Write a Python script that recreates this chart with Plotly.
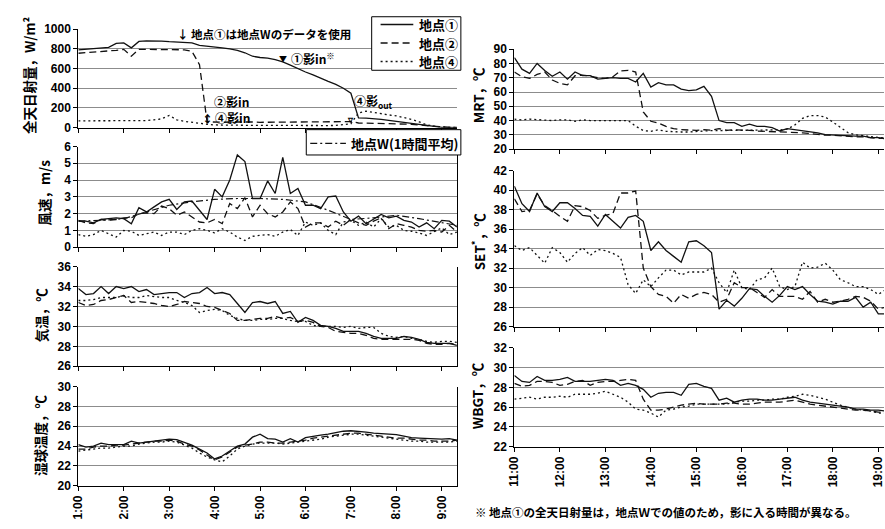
import plotly.graph_objects as go

W, H = 885, 529


def px(x):
    return x / W


def py(y):
    return 1 - y / H


# ---------------- data ----------------
TIMES = ["11:00", "11:10", "11:20", "11:30", "11:40", "11:50",
         "12:00", "12:10", "12:20", "12:30", "12:40", "12:50",
         "13:00", "13:10", "13:20", "13:30", "13:40", "13:50",
         "14:00", "14:10", "14:20", "14:30", "14:40", "14:50",
         "15:00", "15:10", "15:20", "15:30", "15:40", "15:50",
         "16:00", "16:10", "16:20", "16:30", "16:40", "16:50",
         "17:00", "17:10", "17:20", "17:30", "17:40", "17:50",
         "18:00", "18:10", "18:20", "18:30", "18:40", "18:50",
         "19:00", "19:10", "19:20"]

W_TIMES = ["11:00", "11:30", "12:00", "12:30", "13:00", "13:30", "14:00", "14:30", "15:00",
           "15:30", "16:00", "16:30", "17:00", "17:30", "18:00", "18:30", "19:00", "19:20"]

LEFT_TICKS = ["1:00", "2:00", "3:00", "4:00", "5:00", "6:00", "7:00", "8:00", "9:00"]
RIGHT_TICKS = ["11:00", "12:00", "13:00", "14:00", "15:00", "16:00", "17:00", "18:00", "19:00"]
TICK_HOURS = [11, 12, 13, 14, 15, 16, 17, 18, 19]

NAMES = ["地点①", "地点②", "地点④"]
W_NAME = "地点W(1時間平均)"

SOLAR_1 = [790, 795, 800, 805, 815, 855, 860, 810, 875, 880, 880, 878, 872, 868, 865, 860, 835,
           828, 822, 810, 800, 785, 760, 725, 712, 705, 690, 668, 635, 597, 565, 535, 500, 470,
           440, 400, 350, 100, 98, 95, 85, 75, 65, 55, 45, 30, 18, 10, 4, 2, 1]
SOLAR_2 = [755, 760, 765, 770, 775, 785, 795, 725, 795, 795, 795, 795, 795, 790, 790, 775, 640,
           60, 55, 55, 58, 60, 60, 58, 55, 55, 55, 55, 57, 57, 55, 55, 55, 57, 58, 60, 62, 48,
           46, 45, 45, 44, 43, 40, 35, 28, 20, 12, 6, 3, 2]
SOLAR_4 = [70, 70, 68, 70, 70, 68, 66, 68, 70, 72, 80, 90, 125, 80, 65, 55, 40, 35, 28, 26, 25,
           25, 24, 24, 24, 23, 23, 23, 23, 22, 22, 22, 22, 22, 23, 28, 40, 150, 168, 155, 140,
           130, 120, 105, 85, 60, 30, 15, 7, 3, 2]

WIND_1 = [1.55, 1.55, 1.45, 1.65, 1.7, 1.75, 1.7, 1.4, 2.35, 2.1, 2.4, 2.7, 2.85, 2.25, 2.7,
          2.75, 2.2, 1.65, 3.45, 3.0, 4.0, 5.5, 5.1, 2.9, 2.9, 3.95, 3.2, 5.35, 3.2, 3.5, 2.5,
          2.5, 2.3, 3.0, 3.05, 2.1, 1.55, 1.85, 1.4, 1.7, 1.95, 1.75, 1.85, 1.6, 1.5, 1.2, 1.45,
          1.1, 1.6, 1.55, 1.2]
WIND_2 = [1.6, 1.45, 1.4, 1.65, 1.6, 1.65, 1.75, 1.75, 2.0, 2.05, 2.0, 2.45, 2.3, 1.9, 2.1,
          1.8, 1.5, 1.45, 1.65, 1.4, 2.6, 2.3, 2.95, 1.8, 2.5, 2.0, 1.8, 2.1, 2.7, 2.3, 1.2,
          1.45, 1.45, 1.2, 1.55, 1.3, 1.65, 1.45, 1.3, 1.55, 1.75, 1.1, 1.4, 1.3, 1.2, 1.0,
          0.95, 1.0, 0.9, 1.3, 0.9]
WIND_4 = [0.75, 0.65, 0.75, 1.0, 0.8, 0.6, 1.0, 0.95, 0.7, 0.8, 0.9, 0.7, 0.9, 0.9, 0.75, 1.0,
          1.1, 1.0, 0.85, 1.1, 0.9, 0.6, 0.4, 0.65, 0.7, 0.75, 0.65, 0.9, 1.05, 0.7, 1.5, 1.3,
          1.45, 1.0, 0.75, 1.5, 1.6, 1.3, 1.5, 1.2, 1.7, 1.2, 1.3, 1.0, 0.95, 0.85, 0.7, 0.95,
          1.15, 0.75, 0.9]
WIND_W = [1.55, 1.6, 1.7, 2.1, 2.5, 2.7, 2.85, 2.9, 2.9, 2.85, 2.7, 2.2, 1.65, 1.75, 1.9, 1.7,
          1.45, 1.3]

AIR_1 = [33.8, 33.2, 33.3, 34.0, 33.3, 34.0, 33.8, 34.0, 33.5, 33.7, 33.2, 33.3, 33.4, 33.4,
         32.9, 33.3, 33.4, 33.9, 33.3, 33.4, 33.2, 32.3, 31.4, 32.4, 32.5, 32.3, 32.5, 31.3,
         31.5, 30.4, 30.9, 30.6, 30.1, 30.0, 29.8, 29.5, 29.5, 29.5, 29.3, 29.0, 28.8, 28.8,
         28.8, 29.0, 28.9, 28.7, 28.4, 28.3, 28.3, 28.3, 28.1]
AIR_2 = [32.4, 32.1, 32.2, 32.6, 32.7, 32.9, 33.1, 32.4, 32.5, 32.4, 32.3, 32.1, 32.0, 32.2,
         32.5, 32.4, 32.3, 32.0, 31.9, 31.6, 31.3, 30.6, 30.6, 30.7, 30.8, 30.8, 31.0, 30.8,
         30.9, 30.5, 30.6, 30.4, 30.0, 29.9, 29.5, 29.4, 29.3, 29.3, 29.1, 28.8, 28.7, 28.7,
         28.7, 28.7, 28.7, 28.6, 28.3, 28.2, 28.2, 28.3, 28.2]
AIR_4 = [32.6, 32.6, 32.7, 32.9, 32.9, 32.9, 33.1, 32.9, 32.9, 33.1, 33.0, 32.9, 32.9, 32.6,
         32.4, 32.1, 31.4, 31.6, 31.7, 31.6, 31.1, 30.8, 30.6, 30.6, 30.7, 30.7, 30.8, 30.8,
         30.6, 30.5, 30.5, 30.1, 30.0, 30.0, 30.0, 29.9, 30.0, 29.8, 29.9, 29.9, 29.3, 29.0,
         28.9, 29.0, 28.8, 28.7, 28.5, 28.4, 28.5, 28.5, 28.4]

WET_1 = [24.15, 23.9, 24.0, 24.3, 24.15, 24.15, 24.15, 24.5, 24.3, 24.4, 24.5, 24.65, 24.7,
         24.65, 24.4, 24.1, 23.7, 23.3, 22.7, 23.0, 23.5, 24.0, 24.2, 24.9, 25.2, 24.75, 24.7,
         24.4, 24.75, 24.4, 24.85, 25.0, 25.1, 25.2, 25.35, 25.5, 25.55, 25.5, 25.4, 25.3,
         25.25, 25.25, 25.15, 25.0, 24.85, 24.8, 24.75, 24.75, 24.7, 24.75, 24.6]
WET_2 = [23.7, 23.7, 23.9, 24.0, 24.0, 24.1, 24.1, 24.2, 24.3, 24.4, 24.5, 24.5, 24.6, 24.5,
         24.2, 24.0, 23.6, 23.1, 22.6, 22.9, 23.4, 23.9, 24.1, 24.2, 24.4, 24.4, 24.3, 24.3,
         24.4, 24.5, 24.6, 24.8, 24.9, 25.0, 25.1, 25.2, 25.3, 25.3, 25.2, 25.1, 25.0, 24.9,
         24.8, 24.8, 24.7, 24.6, 24.6, 24.5, 24.5, 24.5, 24.6]
WET_4 = [23.5, 23.6, 23.7, 23.8, 23.8, 23.9, 24.0, 24.0, 24.2, 24.3, 24.4, 24.4, 24.5, 24.4,
         24.1, 23.8, 23.3, 22.9, 22.6, 22.4, 23.0, 23.7, 24.0, 24.2, 24.3, 24.3, 24.3, 24.2,
         24.3, 24.4, 24.5, 24.6, 24.7, 24.9, 25.0, 25.1, 25.2, 25.2, 25.1, 25.0, 24.9, 24.8,
         24.7, 24.6, 24.5, 24.5, 24.4, 24.4, 24.4, 24.4, 24.5]

MRT_1 = [84, 76, 73, 80, 75, 71, 74, 69, 74, 71.5, 71.5, 69, 69.5, 70, 69.5, 69.5, 67, 73,
         63.5, 66.5, 65, 65, 62, 61, 61.5, 64, 57, 40, 38.5, 38.5, 36, 37.5, 36, 36, 35, 32.7,
         34.3, 33.6, 32.7, 32, 31.4, 30.2, 29.8, 29.8, 29.3, 29.1, 29.1, 28, 28, 27, 26.5]
MRT_2 = [74, 70.7, 69.5, 72.3, 74, 68.4, 66, 65, 71.4, 71.8, 71.1, 70, 69.5, 70.7, 74.8, 75.2,
         74, 46, 39.5, 38.2, 35.9, 34.3, 33.6, 33.2, 33.2, 33.6, 33.2, 34.3, 33.2, 33.6, 33.6,
         33.2, 32.7, 32.5, 32.5, 32.5, 32, 32, 31.4, 30.9, 30.2, 29.8, 29.8, 29.3, 29.1, 28.6,
         28.6, 28, 27.5, 27.5, 27]
MRT_4 = [41, 40.5, 41, 40.5, 40.5, 40, 40.5, 40.5, 39.5, 40.5, 40, 40, 40, 40, 39.5, 40, 36,
         33, 32.5, 33.5, 32.5, 32, 32, 32, 32.5, 33, 33, 33, 33, 33.5, 33.5, 33.5, 33, 33, 33.5,
         33.5, 34, 37, 41.5, 43.5, 43.5, 42.5, 39, 35, 31.5, 30, 29.5, 29, 28, 27.5, 27]

SET_1 = [40.4, 38.6, 37.8, 39.7, 38.3, 37.8, 38.7, 38.7, 38.1, 37.4, 37.3, 36.3, 37.5, 36.8,
         36.1, 37.2, 37.4, 36.8, 33.8, 34.7, 33.8, 33.2, 32.6, 34.7, 34.8, 34.3, 33.6, 27.8,
         28.7, 28.1, 28.9, 29.9, 29.8, 29.1, 28.5, 29.2, 30.1, 29.8, 30.1, 29.3, 28.6, 28.5,
         28.3, 28.6, 28.6, 29.0, 28.0, 28.5, 27.3, 27.3, 27.3]
SET_2 = [39.1, 37.8, 37.9, 39.6, 38.4, 37.9, 37.3, 36.8, 38.4, 38.3, 37.9, 37.1, 37.4, 37.6,
         39.7, 39.7, 39.9, 32.0, 30.1, 29.3, 29.1, 28.4, 29.3, 28.9, 29.3, 29.5, 29.3, 28.5,
         28.8, 30.5, 30.0, 30.0, 29.5, 29.0, 29.8, 29.1, 29.1, 29.1, 28.8, 29.6, 28.5, 28.8,
         28.5, 28.6, 28.8, 29.1, 29.0, 28.6, 27.8, 28.0, 28.0]
SET_4 = [34.3, 33.8, 34.1, 33.3, 32.5, 34.1, 33.6, 32.6, 33.5, 34.1, 33.3, 33.9, 33.8, 33.5,
         33.1, 30.3, 29.4, 30.8, 30.1, 31.0, 31.8, 31.8, 31.3, 31.6, 31.6, 31.6, 32.0, 30.5,
         29.5, 31.8, 30.0, 29.8, 30.8, 31.0, 32.0, 30.1, 29.8, 30.1, 32.6, 32.0, 32.1, 32.5,
         31.8, 30.8, 30.5, 30.1, 30.1, 29.8, 29.3, 29.8, 29.8]

WBGT_1 = [29.2, 28.6, 28.5, 29.1, 28.7, 28.7, 28.8, 29.0, 28.6, 28.6, 28.6, 28.7, 28.8, 28.7,
          28.2, 28.4, 28.2, 27.8, 27.0, 27.4, 27.5, 27.5, 27.2, 28.3, 28.4, 28.1, 27.9, 26.7,
          26.9, 26.5, 26.7, 26.8, 26.8, 26.7, 26.7, 26.8, 26.9, 27.0, 26.7, 26.5, 26.4, 26.3,
          26.2, 26.1, 26.0, 25.8, 25.8, 25.7, 25.7, 25.6, 25.6]
WBGT_2 = [28.4, 28.1, 28.2, 28.6, 28.6, 28.5, 28.2, 28.3, 28.6, 28.7, 28.2, 28.5, 28.6, 28.6,
          28.7, 28.8, 28.7, 26.8, 25.7, 25.7, 25.8, 26.0, 26.2, 26.3, 26.4, 26.3, 26.3, 26.3,
          26.4, 26.4, 26.3, 26.3, 26.4, 26.5, 26.5, 26.5, 26.6, 26.7, 26.5, 26.3, 26.2, 26.1,
          26.0, 25.9, 25.8, 25.7, 25.7, 25.6, 25.5, 25.5, 25.5]
WBGT_4 = [26.8, 26.9, 27.0, 26.8, 27.0, 27.0, 27.1, 27.0, 27.3, 27.3, 27.3, 27.4, 27.6, 27.3,
          27.0, 26.5, 25.8, 25.7, 25.4, 25.0, 25.7, 25.8, 26.0, 26.1, 26.3, 26.3, 26.3, 26.3,
          26.3, 26.5, 26.6, 26.6, 26.7, 26.7, 26.8, 26.8, 27.0, 27.1, 27.3, 27.2, 27.0, 26.8,
          26.5, 26.2, 26.0, 25.8, 25.7, 25.6, 25.4, 25.4, 25.4]


def hrs(s):
    h, m = s.split(":")
    return int(h) + int(m) / 60.0


X = [hrs(t) for t in TIMES]
XW = [hrs(t) for t in W_TIMES]

# ---------------- styles ----------------
BLACK = "#111111"
GRID = "#8c8c8c"
TICKFONT = dict(family="Liberation Sans, Arial, sans-serif", size=12, color="black", weight="bold")
JP = "Noto Sans CJK JP, sans-serif"
DASHES = ["solid", "7px,4px", "2px,3px"]
W_DASH = "7px,3px,2px,3px"
STYLES = [dict(color=BLACK, width=1.3, dash=d) for d in DASHES]

fig = go.Figure()

LEFT_DOM = [px(72), px(454)]
RIGHT_DOM = [px(512), 1.0]
LEFT_RANGE = [11, 19.333]
RIGHT_RANGE = [11, 19.125]

panels = [
    ("", [SOLAR_1, SOLAR_2, SOLAR_4], [0, 1000], 200, "L", (22.7, 124), False),
    ("2", [WIND_1, WIND_2, WIND_4], [0, 6], 1, "L", (143.3, 246.7), False),
    ("3", [AIR_1, AIR_2, AIR_4], [26, 36], 2, "L", (266.7, 369), False),
    ("4", [WET_1, WET_2, WET_4], [20, 30], 2, "L", (390, 491.7), True),
    ("5", [MRT_1, MRT_2, MRT_4], [20, 90], 10, "R", (43.3, 146), False),
    ("6", [SET_1, SET_2, SET_4], [26, 42], 2, "R", (168, 328.3), False),
    ("7", [WBGT_1, WBGT_2, WBGT_4], [22, 32], 2, "R", (350, 451.7), True),
]

layout_axes = {}
for suf, series, yr, dt, side, (ytop, ybot), labels in panels:
    for k, vals in enumerate(series):
        fig.add_trace(go.Scatter(
            x=X, y=vals, mode="lines", line=STYLES[k], name=NAMES[k],
            xaxis="x" + suf, yaxis="y" + suf, showlegend=False, hoverinfo="skip"))
    if suf == "2":
        fig.add_trace(go.Scatter(
            x=XW, y=WIND_W, mode="lines",
            line=dict(color=BLACK, width=1.2, dash=W_DASH),
            name=W_NAME, xaxis="x2", yaxis="y2", showlegend=False, hoverinfo="skip"))
    left = side == "L"
    layout_axes["xaxis" + suf] = dict(
        domain=LEFT_DOM if left else RIGHT_DOM,
        range=LEFT_RANGE if left else RIGHT_RANGE,
        anchor="y" + suf, tickmode="array", tickvals=TICK_HOURS,
        ticktext=LEFT_TICKS if left else RIGHT_TICKS,
        showticklabels=labels, tickangle=-90, tickfont=TICKFONT,
        ticklabeloverflow="allow",
        ticks="outside", ticklen=4, tickcolor="black", tickwidth=1,
        showline=True, linecolor="black", linewidth=1.2, showgrid=False, zeroline=False)
    layout_axes["yaxis" + suf] = dict(
        domain=[py(ybot), py(ytop)], range=yr, dtick=dt, anchor="x" + suf,
        tickfont=TICKFONT, ticks="outside", ticklen=4, tickcolor="black",
        showline=True, linecolor="black", linewidth=1.2,
        mirror=(left and suf != ""), showgrid=True, gridcolor=GRID, gridwidth=1,
        zeroline=False)

fig.update_layout(**layout_axes)

# ---------------- annotations ----------------
ann = []


def txt(x, y, s, size=12, xanchor="left", angle=0, font=JP):
    ann.append(dict(x=px(x), y=py(y), xref="paper", yref="paper", text=s, showarrow=False,
                    xanchor=xanchor, yanchor="middle", textangle=angle,
                    font=dict(family=font, size=size, color="black", weight="bold")))


# y-axis titles
txt(22, 70, "全天日射量，W/m²", 13.5, "center", -90)
txt(37, 191, "風速，m/s", 13.5, "center", -90)
txt(34, 316, "気温，℃", 13.5, "center", -90)
txt(34, 440, "湿球温度，℃", 13.5, "center", -90)
txt(475, 91, "MRT，℃", 13.5, "center", -90)
txt(476, 241, "SET<sup>*</sup>，℃", 13.5, "center", -90)
txt(475, 399, "WBGT，℃", 13.5, "center", -90)

# panel-1 notes
txt(170, 28, "↓ 地点①は地点Wのデータを使用", 11.5)
txt(279, 53, "▼", 8, "center")
txt(285, 52, "①影in<sup>※</sup>", 12)
txt(207, 97, "②影in", 12)
txt(202, 114, "↕", 11, "center")
txt(208, 114, "④影in", 12)
txt(347, 115, "▿", 10, "center")
txt(348, 97, "④影<sub>out</sub>", 12)

# footnote
txt(470, 519, "※ 地点①の全天日射量は，地点Ｗでの値のため，影に入る時間が異なる。", 11.5)

# ---------------- legends (drawn as boxes with line samples) ----------------
shapes = []


def pline(x0, x1, y, dash, width=1.3):
    shapes.append(dict(type="line", xref="paper", yref="paper", x0=px(x0), x1=px(x1),
                       y0=py(y), y1=py(y), line=dict(color=BLACK, width=width, dash=dash),
                       layer="above"))


def pbox(x0, y0, x1, y1):
    shapes.append(dict(type="rect", xref="paper", yref="paper", x0=px(x0), x1=px(x1),
                       y0=py(y1), y1=py(y0), line=dict(color="black", width=1),
                       fillcolor="white", layer="above"))


pbox(368, 10, 458, 65)
for k, yy in enumerate([18, 37, 56]):
    pline(377, 410, yy, DASHES[k])
    txt(414, yy, NAMES[k], 13)

pbox(302, 126, 458, 152)
pline(306, 342, 140, W_DASH, 1.2)
txt(345, 140, W_NAME, 13)

fig.update_layout(
    width=W, height=H, margin=dict(l=0, r=0, t=0, b=0),
    paper_bgcolor="white", plot_bgcolor="white",
    annotations=ann, shapes=shapes, showlegend=False,
)

fig.write_html("out.html")
